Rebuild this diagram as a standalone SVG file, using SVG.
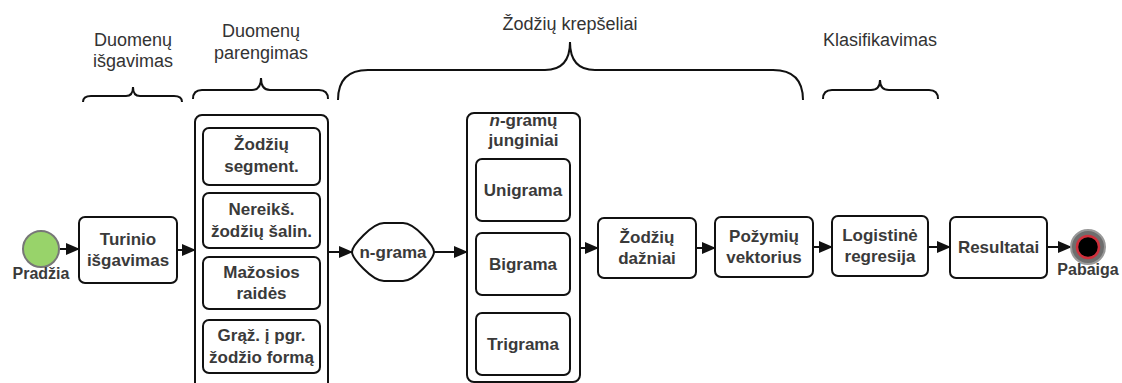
<svg xmlns="http://www.w3.org/2000/svg" width="1122" height="383" viewBox="0 0 1122 383">
<style>
.hdr{font-family:"Liberation Sans",Arial,sans-serif;font-size:18px;fill:#333;text-anchor:middle}
.lbl{font-family:"Liberation Sans",Arial,sans-serif;font-size:17px;font-weight:bold;fill:#3a3a3a;text-anchor:middle}
.ev{font-family:"Liberation Sans",Arial,sans-serif;font-size:16px;font-weight:bold;fill:#3a3a3a;text-anchor:middle}
.box{fill:#fff;stroke:#111;stroke-width:2}
.brace{fill:none;stroke:#111;stroke-width:2}
.conn{fill:none;stroke:#111;stroke-width:2;marker-end:url(#arr)}
</style>
<defs>
<marker id="arr" markerUnits="userSpaceOnUse" markerWidth="14" markerHeight="12" refX="13" refY="6" orient="auto">
<path d="M0,0 L14,6 L0,12 Z" fill="#111"/>
</marker>
</defs>
<rect width="1122" height="383" fill="#fff"/>

<g id="headers">
<text class="hdr" x="133" y="46">Duomenų</text>
<text class="hdr" x="133" y="67">išgavimas</text>
<text class="hdr" x="261" y="37">Duomenų</text>
<text class="hdr" x="261" y="59">parengimas</text>
<text class="hdr" x="570" y="30">Žodžių krepšeliai</text>
<text class="hdr" x="880" y="46">Klasifikavimas</text>
</g>

<g id="braces">
<path class="brace" d="M83,102 Q83,96 91,96 L126,96 Q133,96 133,87 Q133,96 140,96 L174,96 Q182,96 182,102"/>
<path class="brace" d="M193,99 Q193,90 202,90 L252,90 Q261,90 261,78 Q261,90 270,90 L319,90 Q328,90 328,99"/>
<path class="brace" d="M338,100 Q338,70 368,70 L545,70 Q570,70 570,42 Q570,70 595,70 L773,70 Q803,70 803,100"/>
<path class="brace" d="M823,99 Q823,90 832,90 L871,90 Q880,90 880,80 Q880,90 889,90 L929,90 Q938,90 938,99"/>
</g>

<g id="connectors">
<line class="conn" x1="60" y1="249" x2="79" y2="249"/>
<line class="conn" x1="177" y1="250" x2="195" y2="250"/>
<line class="conn" x1="328" y1="252" x2="352" y2="252"/>
<line class="conn" x1="434" y1="252" x2="467" y2="252"/>
<line class="conn" x1="580" y1="248" x2="598" y2="248"/>
<line class="conn" x1="696" y1="248" x2="715" y2="248"/>
<line class="conn" x1="813" y1="247" x2="832" y2="247"/>
<line class="conn" x1="928" y1="247" x2="950" y2="247"/>
<line class="conn" x1="1047" y1="247" x2="1071" y2="247"/>
</g>

<g id="start">
<circle cx="41" cy="249" r="18" fill="#98d36a" stroke="#777" stroke-width="2"/>
<text class="ev" x="41" y="279">Pradžia</text>
</g>

<g id="turinio">
<rect class="box" x="79" y="217" width="98" height="66" rx="6"/>
<text class="lbl" x="128" y="245">Turinio</text>
<text class="lbl" x="128" y="266">išgavimas</text>
</g>

<g id="parengimas">
<rect class="box" x="195" y="115" width="133" height="290" rx="7"/>
<g id="segment">
<rect class="box" x="203" y="128" width="117" height="57" rx="6"/>
<text class="lbl" x="261.5" y="150">Žodžių</text>
<text class="lbl" x="261.5" y="172">segment.</text>
</g>
<g id="nereiks">
<rect class="box" x="203" y="193" width="117" height="55" rx="6"/>
<text class="lbl" x="261.5" y="215">Nereikš.</text>
<text class="lbl" x="261.5" y="237">žodžių šalin.</text>
</g>
<g id="mazosios">
<rect class="box" x="203" y="257" width="117" height="52" rx="6"/>
<text class="lbl" x="261.5" y="278">Mažosios</text>
<text class="lbl" x="261.5" y="299">raidės</text>
</g>
<g id="grazinimas">
<rect class="box" x="203" y="320" width="117" height="53" rx="6"/>
<text class="lbl" x="261.5" y="341">Grąž. į pgr.</text>
<text class="lbl" x="261.5" y="363">žodžio formą</text>
</g>
</g>

<g id="ngrama">
<path class="box" d="M352,252 C352,246 372,223 384,223 L403,223 C415,223 434,246 434,252 C434,258 415,281 403,281 L384,281 C372,281 352,258 352,252 Z"/>
<text class="lbl" x="393" y="258">n-grama</text>
</g>

<g id="junginiai">
<rect class="box" x="467" y="113" width="113" height="269" rx="7"/>
<text class="lbl" x="523.5" y="126"><tspan font-style="italic">n</tspan>-gramų</text>
<text class="lbl" x="523.5" y="146">junginiai</text>
<g id="unigrama">
<rect class="box" x="476" y="159" width="94" height="62" rx="6"/>
<text class="lbl" x="523" y="196">Unigrama</text>
</g>
<g id="bigrama">
<rect class="box" x="476" y="233" width="94" height="62" rx="6"/>
<text class="lbl" x="523" y="270">Bigrama</text>
</g>
<g id="trigrama">
<rect class="box" x="476" y="313" width="94" height="62" rx="6"/>
<text class="lbl" x="523" y="350">Trigrama</text>
</g>
</g>

<g id="dazniai">
<rect class="box" x="598" y="218" width="98" height="60" rx="6"/>
<text class="lbl" x="647" y="243">Žodžių</text>
<text class="lbl" x="647" y="264">dažniai</text>
</g>

<g id="vektorius">
<rect class="box" x="715" y="217" width="98" height="60" rx="6"/>
<text class="lbl" x="764" y="242">Požymių</text>
<text class="lbl" x="764" y="263">vektorius</text>
</g>

<g id="regresija">
<rect class="box" x="832" y="216" width="96" height="60" rx="6"/>
<text class="lbl" x="880" y="241">Logistinė</text>
<text class="lbl" x="880" y="262">regresija</text>
</g>

<g id="resultatai">
<rect class="box" x="950" y="217" width="97" height="61" rx="6"/>
<text class="lbl" x="998.5" y="253">Resultatai</text>
</g>

<g id="end">
<circle cx="1088" cy="247" r="17" fill="#6e6e6e" stroke="#999" stroke-width="2"/>
<circle cx="1088" cy="247" r="11" fill="#000" stroke="#d0303c" stroke-width="2.5"/>
<text class="ev" x="1088" y="275">Pabaiga</text>
</g>
</svg>
